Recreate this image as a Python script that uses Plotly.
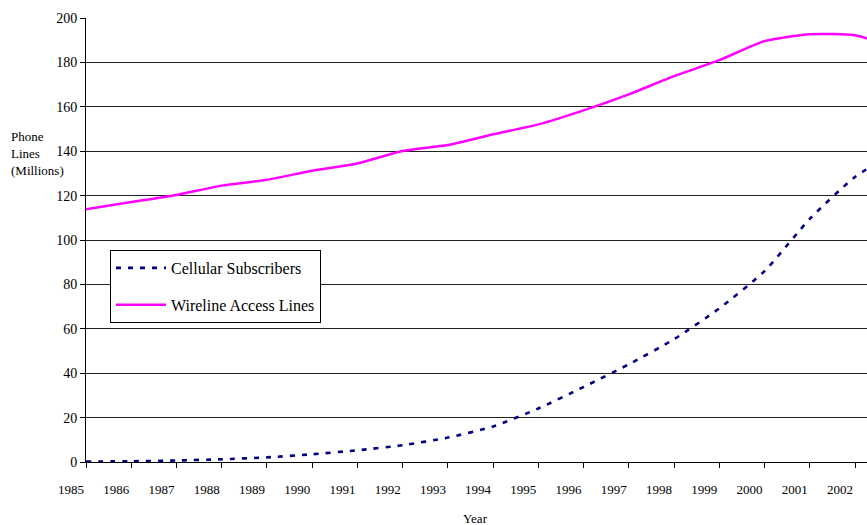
import plotly.graph_objects as go

years = [1985, 1986, 1987, 1988, 1989, 1990, 1991, 1992, 1993, 1994,
         1995, 1996, 1997, 1998, 1999, 2000, 2001, 2002, 2003]
cellular = [0.2, 0.34, 0.68, 1.23, 2.07, 3.51, 5.28, 7.56, 11.0, 16.0,
            24.1, 33.8, 44.0, 55.3, 69.2, 86.0, 109.5, 128.4, 140.8]
wireline = [113.8, 117.1, 120.3, 124.5, 127.1, 131.2, 134.5, 140.1, 142.8, 147.6,
            152.1, 158.4, 165.6, 173.8, 181.0, 189.6, 192.7, 192.2, 186.0]
tick_years = list(range(1985, 2003))
y_ticks = list(range(0, 201, 20))

serif = "Liberation Serif, Times New Roman, serif"

fig = go.Figure()
fig.add_trace(go.Scatter(
    x=years, y=cellular, mode="lines", name="Cellular Subscribers",
    line=dict(color="#000080", width=2.6, dash="5px,7px", shape="spline", smoothing=0.6),
    legendgroup="a",
))
fig.add_trace(go.Scatter(
    x=years, y=wireline, mode="lines", name="Wireline Access Lines",
    line=dict(color="#FF00FF", width=2.5, shape="spline", smoothing=0.6),
    legendgroup="b",
))

fig.update_layout(
    width=867, height=525,
    margin=dict(l=86, r=0, t=18, b=63),
    paper_bgcolor="white", plot_bgcolor="white",
    font=dict(family=serif, size=13, color="black"),
    showlegend=True,
    legend=dict(
        x=(110 - 86) / 781, y=(462 - 250) / 444, xanchor="left", yanchor="top",
        bordercolor="black", borderwidth=1, bgcolor="white",
        font=dict(family=serif, size=16, color="black"),
        tracegroupgap=13, itemwidth=50,
    ),
    xaxis=dict(
        range=[1985, 2002.265], tickvals=tick_years, ticktext=[str(y) for y in tick_years],
        showgrid=False, zeroline=False, showline=True, linecolor="black", linewidth=1,
        ticks="outside", ticklen=5, tickcolor="black", tickwidth=1,
        ticklabelshift=-15, ticklabelstandoff=10,
        tickfont=dict(family=serif, size=13, color="black"),
    ),
    yaxis=dict(
        range=[0, 200], tickvals=y_ticks,
        showgrid=True, gridcolor="#222222", gridwidth=1,
        zeroline=False, showline=True, linecolor="black", linewidth=1,
        ticks="outside", ticklen=5, tickcolor="black", tickwidth=1,
        tickfont=dict(family=serif, size=14, color="black"),
    ),
    annotations=[
        dict(text="Phone<br>Lines<br>(Millions)", xref="paper", yref="paper",
             x=-(86 - 9) / 781, y=(462 - 153) / 444, xanchor="left", yanchor="middle",
             align="left", showarrow=False, font=dict(family=serif, size=13, color="black")),
        dict(text="Year", xref="paper", yref="paper",
             x=(475 - 86) / 781, y=(462 - 518) / 444, xanchor="center", yanchor="middle",
             showarrow=False, font=dict(family=serif, size=13, color="black")),
    ],
)

fig.write_html("out.html", config={"displayModeBar": False},
               post_script="document.body.style.margin='0';")
